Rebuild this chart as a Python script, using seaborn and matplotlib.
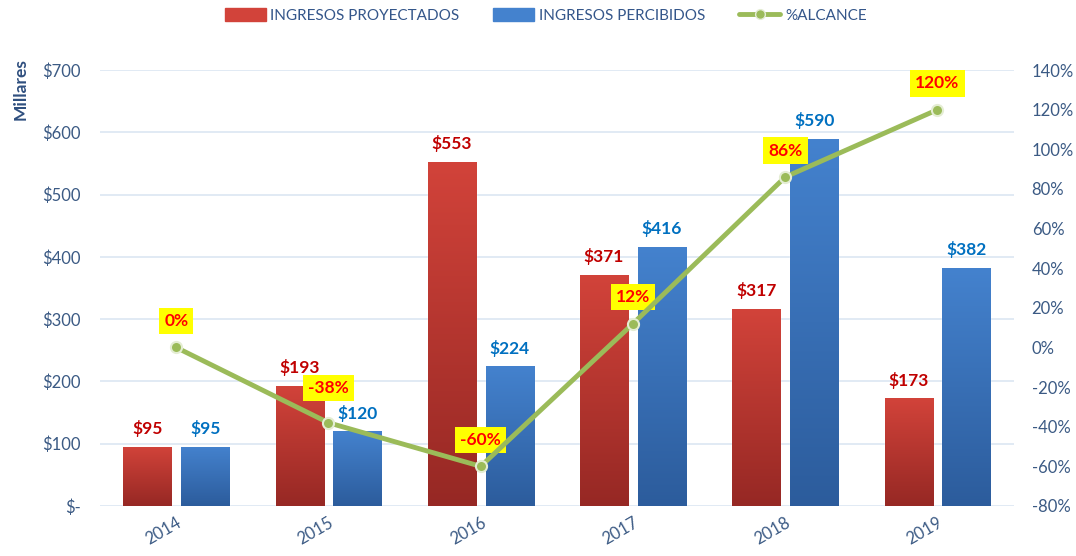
import numpy as np
import pandas as pd
import matplotlib
matplotlib.use("Agg")
import matplotlib.pyplot as plt
import seaborn as sns
from matplotlib.patches import Patch
from matplotlib.lines import Line2D
from matplotlib.colors import LinearSegmentedColormap
from matplotlib.ticker import FuncFormatter, MultipleLocator

# Datos
anios = ["2014", "2015", "2016", "2017", "2018", "2019"]
proyectados = [95, 193, 553, 371, 317, 173]
percibidos = [95, 120, 224, 416, 590, 382]
alcance = [0, -38, -60, 12, 86, 120]

sns.set_style("white")
plt.rcParams["font.family"] = ["Lato", "DejaVu Sans"]

txt_color = "#3B5A84"
rojo_top, rojo_bot = "#D2433A", "#962824"
azul_top, azul_bot = "#4482CE", "#2C5C9C"
verde = "#9BBB59"

df = pd.DataFrame({
    "anio": anios * 2,
    "valor": proyectados + percibidos,
    "serie": ["INGRESOS PROYECTADOS"] * 6 + ["INGRESOS PERCIBIDOS"] * 6,
})

fig, ax = plt.subplots(figsize=(10.76, 5.56), dpi=100)
fig.subplots_adjust(left=0.093, right=0.942, bottom=0.09, top=0.874)

sns.barplot(data=df, x="anio", y="valor", hue="serie",
            palette=[rojo_top, azul_top], width=0.76, gap=0.17,
            legend=False, ax=ax, zorder=2)

# degradado vertical en cada barra
cmaps = [LinearSegmentedColormap.from_list("r", [rojo_bot, rojo_top]),
         LinearSegmentedColormap.from_list("b", [azul_bot, azul_top])]
grad = np.linspace(0, 1, 256).reshape(-1, 1)
for cont, cm in zip(ax.containers, cmaps):
    for p in cont:
        x0, y0 = p.get_x(), p.get_y()
        im = ax.imshow(grad, cmap=cm, origin="lower", aspect="auto",
                       extent=[x0, x0 + p.get_width(), y0, y0 + p.get_height()],
                       zorder=2.5)
        im.set_clip_path(p)

ax.bar_label(ax.containers[0], fmt="${:,.0f}", padding=7, color="#C00000",
             fontsize=12.5, fontweight="bold")
ax.bar_label(ax.containers[1], fmt="${:,.0f}", padding=7, color="#0070C0",
             fontsize=12.5, fontweight="bold")

ax.set_xlim(-0.5, 5.5)
ax.set_ylim(0, 700)
ax.yaxis.set_major_locator(MultipleLocator(100))
ax.yaxis.set_major_formatter(FuncFormatter(lambda v, p: "$-" if v == 0 else f"${v:,.0f}"))
ax.grid(axis="y", color="#DCE6F2", linewidth=1.2, zorder=0)
ax.set_axisbelow(True)
ax.set_xlabel("")
ax.set_ylabel("")
for s in ax.spines.values():
    s.set_visible(False)
ax.tick_params(axis="y", length=0, pad=14, labelsize=12, labelcolor=txt_color)
ax.tick_params(axis="x", length=0, pad=6, labelsize=12, labelcolor=txt_color)
plt.setp(ax.get_xticklabels(), rotation=30, ha="right", rotation_mode="anchor")

# eje secundario: % alcance
ax2 = ax.twinx()
sns.lineplot(x=anios, y=alcance, sort=False, color=verde, linewidth=3.5,
             marker="o", markersize=8, markerfacecolor=verde,
             markeredgecolor="#E4EDD3", markeredgewidth=1.5, ax=ax2, zorder=5)
ax2.set_ylim(-80, 140)
ax2.yaxis.set_major_locator(MultipleLocator(20))
ax2.yaxis.set_major_formatter(FuncFormatter(lambda v, p: f"{v:.0f}%"))
ax2.tick_params(axis="y", length=0, pad=13, labelsize=12, labelcolor=txt_color)
for s in ax2.spines.values():
    s.set_visible(False)
ax2.set_xlim(-0.5, 5.5)

for i, v in enumerate(alcance):
    off = 25 if i == 1 else 19  # la etiqueta de 2015 va un poco mas arriba
    ax2.annotate(f"{v}%", (i, v), xytext=(0, off), textcoords="offset points",
                 ha="center", va="center", color="#FF0000", fontsize=12.5,
                 fontweight="bold",
                 bbox=dict(boxstyle="square,pad=0.3", fc="#FFFF00", ec="none"))

fig.text(0.012, 0.895, "Millares", rotation=90, va="top", ha="left",
         fontsize=12.5, fontweight="bold", color="#2F4F7F")

handles = [Patch(color=rojo_top, label="INGRESOS PROYECTADOS"),
           Patch(color=azul_top, label="INGRESOS PERCIBIDOS"),
           Line2D([], [], color=verde, linewidth=3.5, marker="o", markersize=7,
                  markeredgecolor="#E4EDD3", label="%ALCANCE")]
fig.legend(handles=handles, loc="center", bbox_to_anchor=(0.507, 0.972), ncol=3,
           frameon=False, fontsize=11, labelcolor="#34568A", handlelength=2.7,
           handleheight=0.9, columnspacing=2.2, handletextpad=0.3)

fig.savefig("out.png", dpi=100)
